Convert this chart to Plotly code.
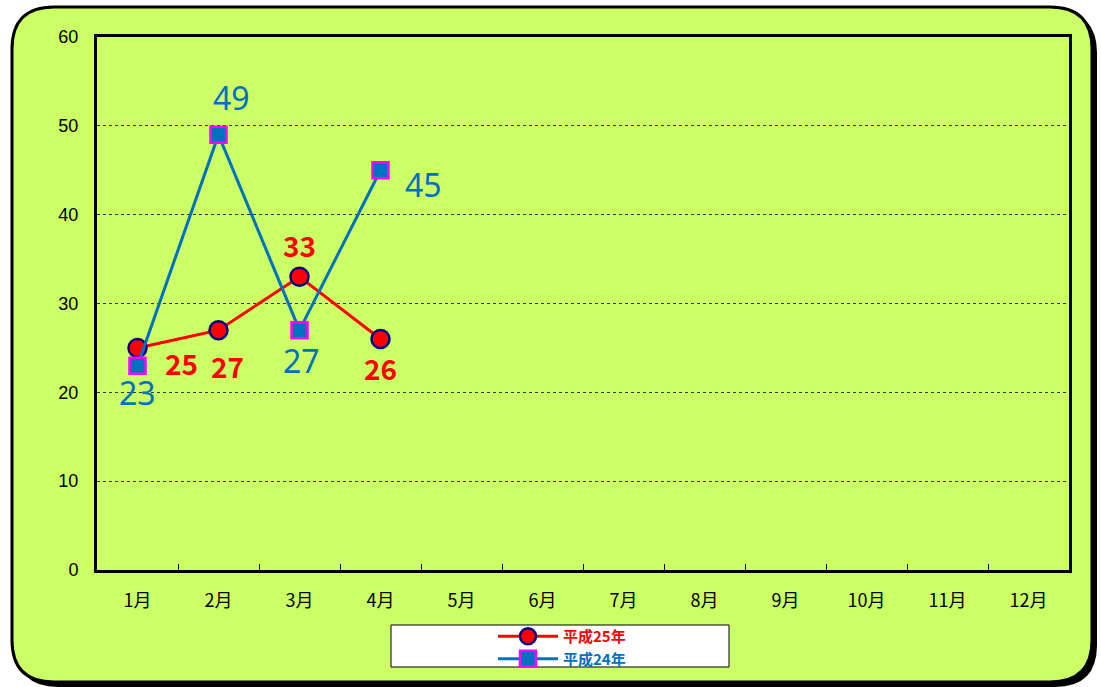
import plotly.graph_objects as go

months = ["1月", "2月", "3月", "4月", "5月", "6月", "7月", "8月", "9月", "10月", "11月", "12月"]
h25_months = ["1月", "2月", "3月", "4月"]
h25_values = [25, 27, 33, 26]
h24_months = ["1月", "2月", "3月", "4月"]
h24_values = [23, 49, 27, 45]
y_ticks = [0, 10, 20, 30, 40, 50, 60]

# label offsets (pixels) - styling only
h25_offsets = [(44, -15), (9, -36), (0, 32), (0, -29)]
h24_offsets = [(0, -27), (13, 37), (2, -30), (43, -14)]

W, H = 1101, 687
L, R, T, B = 97, 1069, 37, 570
GREEN = "#CCFF66"
RED = "#FF0000"
BLUE = "#0070C0"


def P(px, py):
    return ((px - L) / (R - L), (B - py) / (B - T))


def rrect(x0, y0, x1, y1, r):
    pts = [
        ("M", [(x0 + r, y0)]),
        ("L", [(x1 - r, y0)]),
        ("Q", [(x1, y0), (x1, y0 + r)]),
        ("L", [(x1, y1 - r)]),
        ("Q", [(x1, y1), (x1 - r, y1)]),
        ("L", [(x0 + r, y1)]),
        ("Q", [(x0, y1), (x0, y1 - r)]),
        ("L", [(x0, y0 + r)]),
        ("Q", [(x0, y0), (x0 + r, y0)]),
    ]
    s = ""
    for cmd, ps in pts:
        s += cmd + " " + " ".join("%f,%f" % P(*p) for p in ps) + " "
    return s + "Z"


fig = go.Figure()
fig.add_trace(go.Scatter(
    x=h25_months, y=h25_values, name="<span style='color:#FF0000'><b>平成25年</b></span>",
    mode="lines+markers",
    line=dict(color=RED, width=3),
    marker=dict(symbol="circle", size=18, color=RED, line=dict(color="#000080", width=2.5)),
))
fig.add_trace(go.Scatter(
    x=h24_months, y=h24_values, name="<span style='color:#0070C0'><b>平成24年</b></span>",
    mode="lines+markers",
    line=dict(color=BLUE, width=3),
    marker=dict(symbol="square", size=16, color=BLUE, line=dict(color="#FF00FF", width=2.5)),
))

annotations = []
for m, v, (dx, dy) in zip(h25_months, h25_values, h25_offsets):
    annotations.append(dict(x=m, y=v, text="<b>%d</b>" % v, showarrow=False, xshift=dx, yshift=dy,
                            font=dict(family="Noto Sans CJK JP", size=28, color=RED)))
for m, v, (dx, dy) in zip(h24_months, h24_values, h24_offsets):
    annotations.append(dict(x=m, y=v, text="%d" % v, showarrow=False, xshift=dx, yshift=dy,
                            font=dict(family="Noto Sans", size=32, color=BLUE)))

shapes = [
    dict(type="path", xref="paper", yref="paper", layer="below",
         path=rrect(16, 11, 1097, 687, 42), fillcolor="black", line=dict(width=0)),
    dict(type="path", xref="paper", yref="paper", layer="below",
         path=rrect(12, 7, 1092, 682, 42), fillcolor=GREEN, line=dict(color="black", width=3)),
    dict(type="rect", xref="paper", yref="paper", layer="below",
         x0=P(391, 625)[0], y0=P(391, 625)[1], x1=P(729, 667)[0], y1=P(729, 667)[1],
         fillcolor="white", line=dict(color="black", width=1)),
]

fig.update_layout(
    width=W, height=H,
    margin=dict(l=L, r=W - R, t=T, b=H - B, autoexpand=False),
    paper_bgcolor="white",
    plot_bgcolor=GREEN,
    showlegend=True,
    legend=dict(
        x=P(493, 0)[0], y=P(0, 620)[1], xanchor="left", yanchor="top",
        bgcolor="rgba(0,0,0,0)", borderwidth=0,
        font=dict(family="Noto Sans CJK JP", size=15),
        tracegroupgap=0, itemwidth=60, itemclick=False,
    ),
    annotations=annotations,
    shapes=shapes,
    xaxis=dict(
        type="category", categoryorder="array", categoryarray=months,
        tickvals=months, range=[-0.5, 11.5],
        showline=True, linecolor="black", linewidth=3, mirror=True,
        ticks="inside", tickson="boundaries", ticklen=6, tickcolor="black", tickwidth=1,
        showgrid=False,
        tickfont=dict(family="Noto Sans CJK JP", size=18, color="black"),
        ticklabelstandoff=12,
    ),
    yaxis=dict(
        range=[0, 60], tickvals=y_ticks,
        showline=True, linecolor="black", linewidth=3, mirror=True,
        ticks="", showgrid=True, gridcolor="#333333", griddash="dot", gridwidth=1,
        zeroline=False,
        tickfont=dict(family="Liberation Sans", size=18, color="black"),
        ticklabelstandoff=12,
    ),
)

fig.write_html("out.html",
               config={"displayModeBar": False},
               post_script="document.body.style.margin='0';document.body.style.overflow='hidden';")
